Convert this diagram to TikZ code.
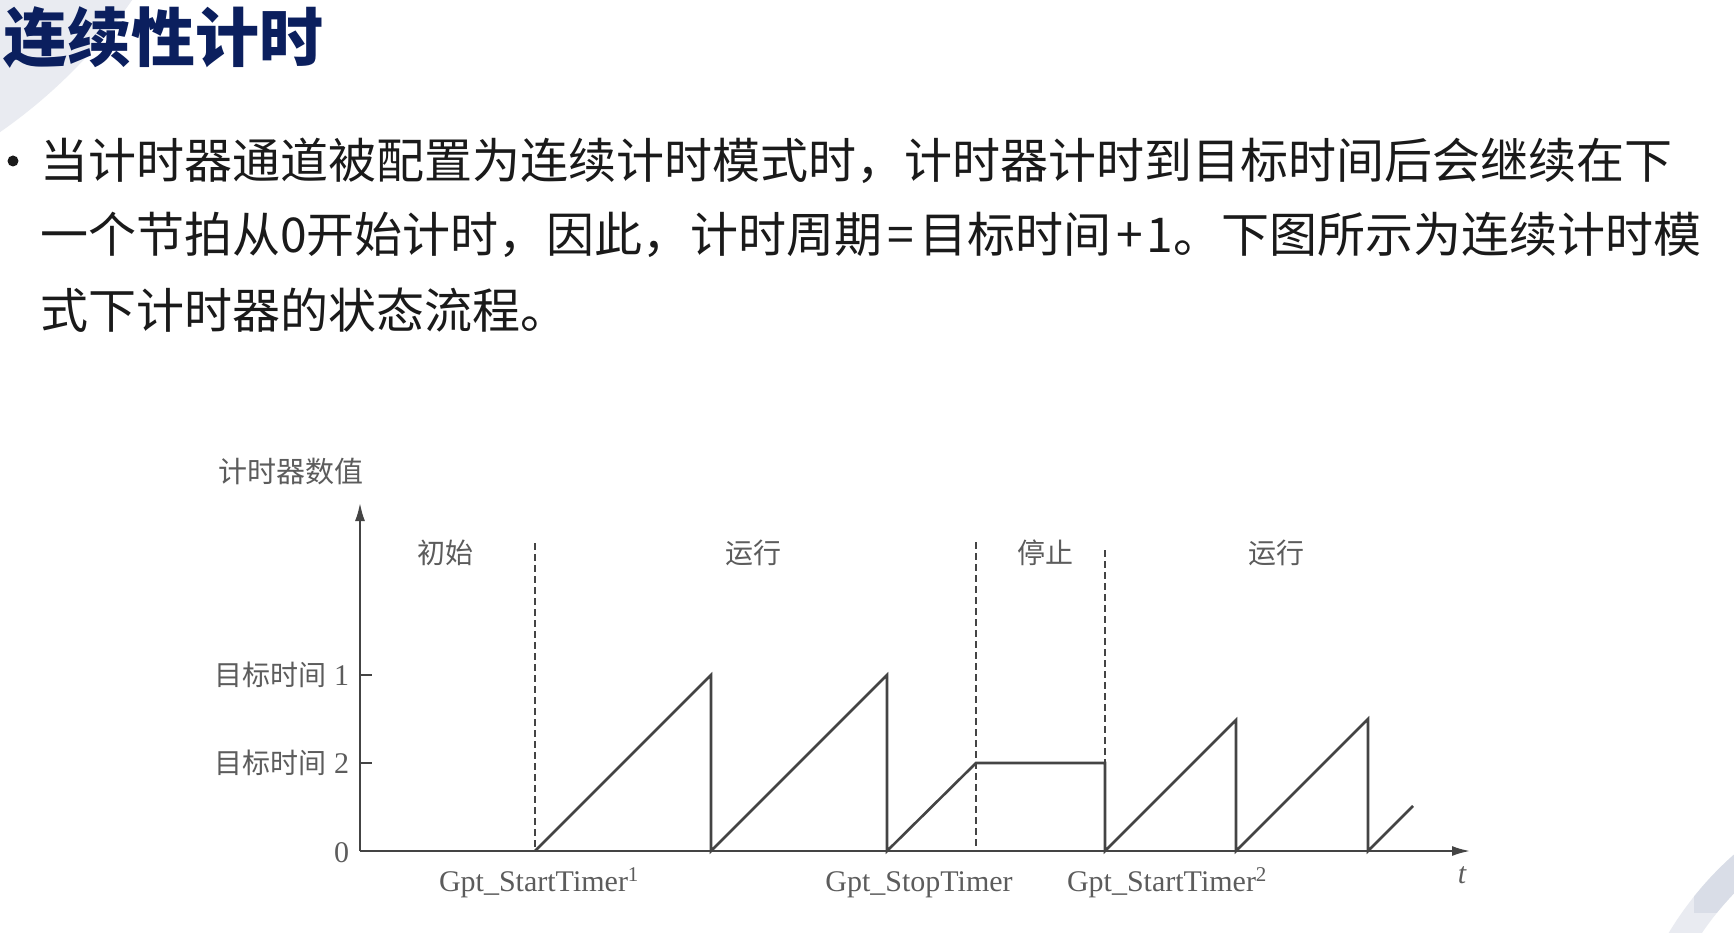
\documentclass[tikz,border=0pt]{standalone}
\usepackage{fontspec}
\usetikzlibrary{arrows.meta}
\setmainfont{Liberation Serif}
\newfontfamily\cjk{Noto Sans CJK SC}
\newfontfamily\song{Noto Sans CJK SC}
\definecolor{titleblue}{HTML}{0B1F5E}
\definecolor{deco}{HTML}{E9EBF1}
\definecolor{decodark}{HTML}{D9DDE7}
\definecolor{ink}{HTML}{1A1A1A}
\definecolor{chart}{HTML}{444444}
\definecolor{lbl}{HTML}{5C5C5C}
\begin{document}
\begin{tikzpicture}[x=1pt,y=-1pt,
  every node/.style={inner sep=0pt, outer sep=0pt},
  body/.style={anchor=base west, font=\cjk\fontsize{48}{48}\selectfont, text=ink},
  cl/.style={font=\song\fontsize{28}{28}\selectfont, text=lbl},
  el/.style={font=\fontsize{30}{30}\selectfont, text=lbl},
  curve/.style={draw=chart, line width=2.6pt, line join=miter},
  axisline/.style={draw=chart, line width=2pt},
  guide/.style={draw=chart, line width=1.8pt, dash pattern=on 7pt off 4pt},
  dot/.style={circle, fill=ink, minimum size=11pt},
]
\useasboundingbox (0,0) rectangle (1734,933);
\fill[white] (0,0) rectangle (1734,933);
% background decorations
\begin{scope}
  \clip (0,0) rectangle (1734,933);
  \fill[deco] (-300,-300) circle[radius=526pt];
  \draw[deco, line width=28pt] (1955,1105) circle[radius=320pt];
  \clip (1694,850) rectangle (1734,912);
  \draw[decodark, line width=28pt] (1955,1105) circle[radius=320pt];
\end{scope}

% title
\node[anchor=base west, font=\cjk\bfseries\fontsize{64}{64}\selectfont, text=titleblue] (title) at (3,62) {连续性计时};

% bullet text
\node[dot] (bullet) at (13,161) {};
\node[body] (line1) at (40,179) {当计时器通道被配置为连续计时模式时，计时器计时到目标时间后会继续在下};
\node[body] (line2) at (40,253) {一个节拍从0开始计时，因此，计时周期\hspace{5pt}=\hspace{5pt}目标时间\hspace{5pt}+\hspace{4pt}1。下图所示为连续计时模};
\node[body] (line3) at (40,328) {式下计时器的状态流程。};

% axes
\coordinate (O) at (360,851);
\coordinate (ytip) at (360,503);
\coordinate (xtip) at (1470,851);
\draw[axisline, -{Latex[length=18pt,width=10pt]}] (O) -- (ytip);
\draw[axisline, -{Latex[length=18pt,width=10pt]}] (O) -- (xtip);
\coordinate (t1) at (360,675);
\coordinate (t2) at (360,763);
\draw[axisline] (t1) -- ++(12,0);
\draw[axisline] (t2) -- ++(12,0);

% axis labels
\node[cl, anchor=base, font=\song\fontsize{29}{29}\selectfont] (ylabel) at (291,482) {计时器数值};
\node[anchor=base east, text=lbl] (lab1) at (349,685) {{\song\fontsize{28}{28}\selectfont 目标时间}\fontsize{30}{30}\selectfont\ 1};
\node[anchor=base east, text=lbl] (lab2) at (349,773) {{\song\fontsize{28}{28}\selectfont 目标时间}\fontsize{30}{30}\selectfont\ 2};
\node[el, anchor=base east] (zero) at (349,862) {0};
\node[el, anchor=base, font=\itshape\fontsize{30}{30}\selectfont] (tlab) at (1462,883) {t};

% phase labels
\node[cl, anchor=base] (init) at (445,563) {初始};
\node[cl, anchor=base] (run1) at (753,563) {运行};
\node[cl, anchor=base] (stop) at (1045,563) {停止};
\node[cl, anchor=base] (run2) at (1276,563) {运行};

% event labels
\node[el, anchor=base] (ev1) at (539,891) {Gpt\_StartTimer\textsuperscript{1}};
\node[el, anchor=base] (ev2) at (919,891) {Gpt\_StopTimer};
\node[el, anchor=base] (ev3) at (1167,891) {Gpt\_StartTimer\textsuperscript{2}};

% guides
\coordinate (g1t) at (535,543); \coordinate (g1b) at (535,851);
\coordinate (g2t) at (976,542); \coordinate (g2b) at (976,851);
\coordinate (g3t) at (1105,550); \coordinate (g3b) at (1105,763);
\draw[guide] (g1t) -- (g1b);
\draw[guide] (g2t) -- (g2b);
\draw[guide] (g3t) -- (g3b);

% counter value
\draw[curve] (535,851) -- (711,675) -- (711,851) -- (887,675) -- (887,851)
  -- (976,763) -- (1105,763) -- (1105,851) -- (1236,720) -- (1236,851)
  -- (1368,719) -- (1368,851) -- (1413,806);
\end{tikzpicture}
\end{document}
